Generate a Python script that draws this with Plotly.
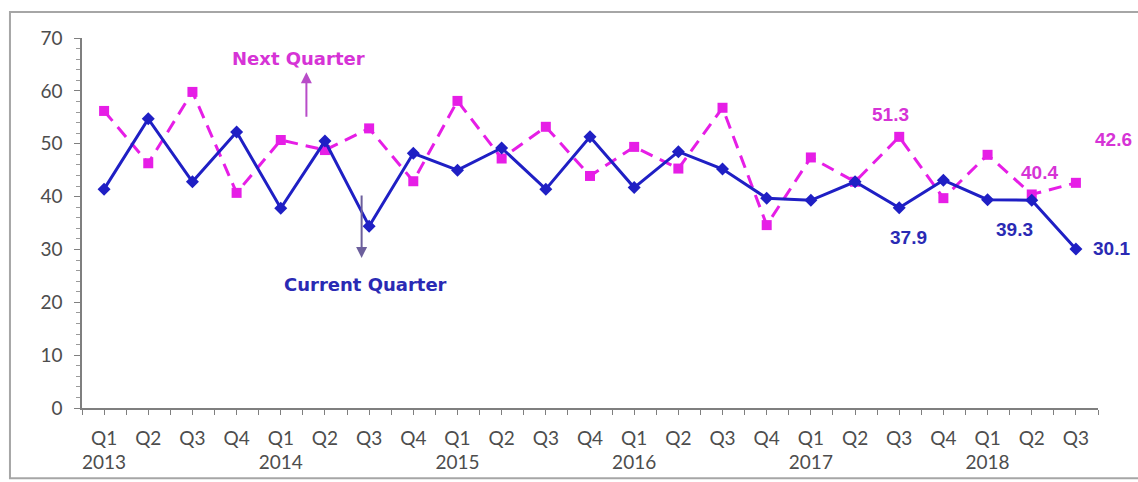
import plotly.graph_objects as go

# Quarterly index readings, Q1 2013 - Q3 2018
quarters = ["Q1", "Q2", "Q3", "Q4"] * 5 + ["Q1", "Q2", "Q3"]
years = ["2013", "2014", "2015", "2016", "2017", "2018"]

current_quarter = [41.4, 54.7, 42.8, 52.2, 37.8, 50.5, 34.4, 48.2,
                   45.0, 49.2, 41.4, 51.3, 41.7, 48.5, 45.2, 39.7,
                   39.3, 42.8, 37.9, 43.1, 39.4, 39.3, 30.1]
next_quarter = [56.2, 46.3, 59.8, 40.7, 50.7, 48.8, 52.9, 42.9,
                58.1, 47.2, 53.2, 43.9, 49.4, 45.3, 56.8, 34.6,
                47.4, 42.8, 51.3, 39.7, 47.9, 40.4, 42.6]

# value labels: (index, xshift, yshift)
current_labels = [(18, 9, -30), (21, -17, -29), (22, 36, 0)]
next_labels = [(18, -9, 22), (21, 8, 22), (22, 38, 43)]

BLUE = "#1f1fc4"
MAGENTA = "#e61ee6"
TEXT_GREY = "#4d4d4d"

x = list(range(len(quarters)))
tick_text = []
for i, q in enumerate(quarters):
    if q == "Q1":
        tick_text.append(f"{q}<br>{years[i // 4]}")
    else:
        tick_text.append(q)

fig = go.Figure()
fig.add_trace(go.Scatter(
    x=x, y=next_quarter, mode="lines+markers", name="Next Quarter",
    line=dict(color=MAGENTA, width=3, dash="13px,8px"),
    marker=dict(symbol="square", size=10, color=MAGENTA),
))
fig.add_trace(go.Scatter(
    x=x, y=current_quarter, mode="lines+markers", name="Current Quarter",
    line=dict(color=BLUE, width=3),
    marker=dict(symbol="diamond", size=10, color=BLUE),
))

label_font = dict(family="Liberation Sans, Arial", size=19)
for i, dx, dy in next_labels:
    fig.add_annotation(x=i, y=next_quarter[i], text=f"<b>{next_quarter[i]:.1f}</b>",
                       showarrow=False, xshift=dx, yshift=dy,
                       font=dict(color="#d633d6", **label_font))
for i, dx, dy in current_labels:
    fig.add_annotation(x=i, y=current_quarter[i], text=f"<b>{current_quarter[i]:.1f}</b>",
                       showarrow=False, xshift=dx, yshift=dy,
                       font=dict(color="#2a2ab4", **label_font))

# series call-outs with arrows
callout_font = "DejaVu Sans"
fig.add_annotation(x=4.4, y=66.2, text="<b>Next Quarter</b>", showarrow=False,
                   font=dict(family=callout_font, size=18, color="#d633d6"))
fig.add_annotation(x=4.58, y=63.5, ax=4.58, ay=54.8, axref="x", ayref="y",
                   text="", showarrow=True, arrowhead=2, arrowsize=1.1,
                   arrowwidth=2, arrowcolor="#b84cc8")
fig.add_annotation(x=5.92, y=23.4, text="<b>Current Quarter</b>", showarrow=False,
                   font=dict(family=callout_font, size=18, color="#2a2ab4"))
fig.add_annotation(x=5.83, y=28.4, ax=5.83, ay=40.5, axref="x", ayref="y",
                   text="", showarrow=True, arrowhead=2, arrowsize=1.1,
                   arrowwidth=2, arrowcolor="#6c5f9c")

# outer frame around the chart
fig.add_shape(type="rect", xref="paper", yref="paper",
              x0=-0.0709, x1=1.045, y0=-0.19, y1=1.0703,
              line=dict(color="#a6a6a6", width=2), fillcolor="rgba(0,0,0,0)",
              layer="below")

fig.update_layout(
    width=1138, height=482,
    margin=dict(l=82, r=40, t=38, b=74),
    paper_bgcolor="white", plot_bgcolor="white",
    showlegend=False,
    font=dict(family="Lato, Open Sans, sans-serif", size=19, color=TEXT_GREY),
)
fig.update_xaxes(
    range=[-0.5, 22.5], tickmode="array", tickvals=x, ticktext=tick_text,
    showgrid=False, zeroline=False, showline=True, linecolor="#7f7f7f", linewidth=1.5,
    ticks="outside", ticklen=5, tickcolor="#7f7f7f", ticklabelstandoff=7,
    automargin=False,
    minor=dict(tickmode="array", tickvals=[i + 0.5 for i in range(-1, 23)],
               ticks="outside", ticklen=5, tickcolor="#7f7f7f"),
    tickfont=dict(size=19, color=TEXT_GREY),
)
fig.update_yaxes(
    range=[0, 70], dtick=10, showgrid=False, zeroline=False,
    showline=True, linecolor="#7f7f7f", linewidth=1.5,
    ticks="outside", ticklen=6, tickcolor="#7f7f7f", ticklabelstandoff=8,
    automargin=False,
    minor=dict(dtick=2, ticks="outside", ticklen=4, tickcolor="#9a9a9a"),
    tickfont=dict(size=19, color=TEXT_GREY),
)

fig.write_html("out.html")
